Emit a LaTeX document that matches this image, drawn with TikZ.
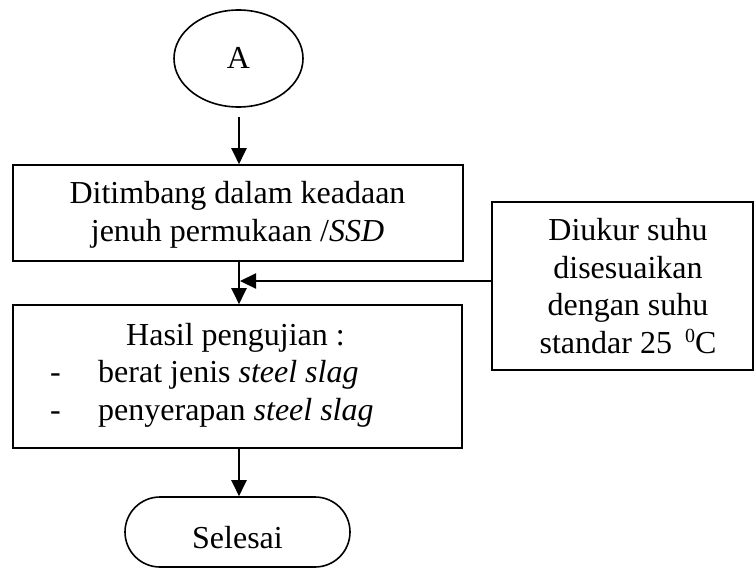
\documentclass[tikz,border=0pt]{standalone}
\usepackage{fontspec}
\setmainfont{Liberation Serif}
\usetikzlibrary{arrows.meta,shapes.geometric}

\tikzset{
  boxline/.style={draw, line width=1.6pt},
  procbox/.style={boxline, rectangle, inner sep=0pt},
  txt/.style={inner sep=0pt, anchor=base, font=\fontsize{32}{38}\selectfont},
  flow/.style={line width=2.2pt, -{Triangle[length=16pt,width=15pt]}},
}
\newcommand{\degsup}{\raisebox{11pt}{\fontsize{20}{20}\selectfont 0}}

\begin{document}
\begin{tikzpicture}[x=1pt, y=-1pt]
  \useasboundingbox (0,0) rectangle (754,570);

  % start connector
  \node[boxline, ellipse, minimum width=129pt, minimum height=97pt, inner sep=0pt]
    (start) at (238.5,58.5) {};
  \node[txt] (startlbl) at (238.5,68) {A};

  % weighing step
  \node[procbox, minimum width=450pt, minimum height=96pt] (weigh) at (238,213) {};
  \node[txt] (weigh1) at (237.5,203) {Ditimbang dalam keadaan};
  \node[txt] (weigh2) at (237.5,241) {jenuh permukaan /\textit{SSD}};

  % temperature note
  \node[procbox, minimum width=261pt, minimum height=168pt] (temp) at (622.5,286) {};
  \node[txt] (temp1) at (628,240) {Diukur suhu};
  \node[txt] (temp2) at (628,278) {disesuaikan};
  \node[txt] (temp3) at (628,315.5) {dengan suhu};
  \node[txt] (temp4) at (628,353) {standar 25\hspace{13pt}\degsup C};

  % results
  \node[procbox, minimum width=449pt, minimum height=143pt] (result) at (237.5,376.5) {};
  \node[txt] (res0) at (235.5,345) {Hasil pengujian :};
  \node[txt, anchor=base west] (dash1) at (50,382) {-};
  \node[txt, anchor=base west] (res1) at (98,382) {berat jenis \textit{steel slag}};
  \node[txt, anchor=base west] (dash2) at (50,420) {-};
  \node[txt, anchor=base west] (res2) at (98,420) {penyerapan \textit{steel slag}};

  % end terminal
  \node[boxline, rectangle, rounded corners=35pt, minimum width=225pt, minimum height=70pt, inner sep=0pt]
    (finish) at (237.5,532) {};
  \node[txt] (finishlbl) at (237.5,548) {Selesai};

  % connectors
  \coordinate (a1) at (239,117);
  \coordinate (join) at (240,281);
  \draw[flow] (a1) -- (a1 |- weigh.north);
  \draw[flow] (weigh.south -| a1) -- (result.north -| a1);
  \draw[flow] (temp.west |- join) -- (join);
  \draw[flow] (result.south -| a1) -- (finish.north -| a1);
\end{tikzpicture}
\end{document}
